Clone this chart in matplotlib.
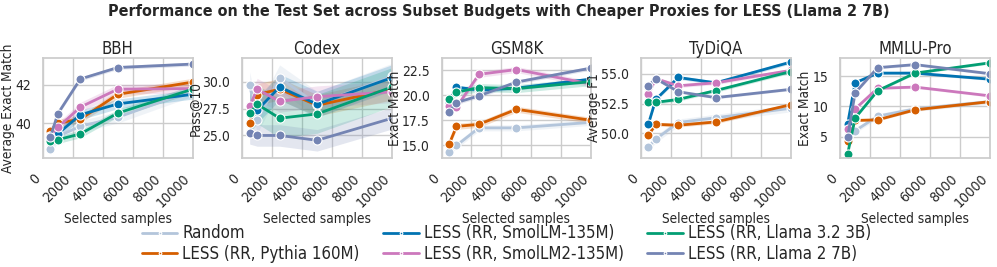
import matplotlib
matplotlib.use("Agg")
import matplotlib.pyplot as plt
import seaborn as sns
import numpy as np

sns.set_theme(style="whitegrid")
plt.rcParams['font.family'] = ['DejaVu Sans']
plt.rcParams['font.stretch'] = 'condensed'

budgets = [500, 1000, 2500, 5000, 10000]

methods = ["Random", "LESS (RR, Pythia 160M)", "LESS (RR, SmolLM-135M)",
           "LESS (RR, SmolLM2-135M)", "LESS (RR, Llama 3.2 3B)", "LESS (RR, Llama 2 7B)"]
colors = ["#b3c5db", "#d55e00", "#0173b2", "#cc78bc", "#029e73", "#7484b3"]

benchmarks = ["BBH", "Codex", "GSM8K", "TyDiQA", "MMLU-Pro"]
ylabels = ["Average Exact Match", "Pass@10", "Exact Match", "Average F1", "Exact Match"]

bbh = {
    "Random": [38.66, 39.3, 39.83, 40.3, 41.7],
    "LESS (RR, Pythia 160M)": [39.6, 40.0, 40.2, 41.5, 42.14],
    "LESS (RR, SmolLM-135M)": [39.3, 39.44, 40.43, 41.0, 41.5],
    "LESS (RR, SmolLM2-135M)": [39.34, 39.77, 40.83, 41.77, 41.8],
    "LESS (RR, Llama 3.2 3B)": [39.04, 39.13, 39.43, 40.52, 41.77],
    "LESS (RR, Llama 2 7B)": [39.27, 40.49, 42.3, 42.9, 43.08],
}
codex = {
    "Random": [29.7, 26.4, 30.35, 27.9, 30.5],
    "LESS (RR, Pythia 160M)": [26.2, 28.8, 29.3, 27.8, 29.3],
    "LESS (RR, SmolLM-135M)": [27.75, 27.35, 29.5, 27.9, 30.37],
    "LESS (RR, SmolLM2-135M)": [27.7, 29.3, 28.16, 28.6, 29.05],
    "LESS (RR, Llama 3.2 3B)": [27.05, 27.9, 26.6, 27.0, 29.5],
    "LESS (RR, Llama 2 7B)": [25.2, 25.0, 25.0, 24.55, 26.6],
}
gsm8k = {
    "Random": [14.4, 15.0, 16.75, 16.75, 17.3],
    "LESS (RR, Pythia 160M)": [15.1, 16.9, 17.1, 18.6, 17.5],
    "LESS (RR, SmolLM-135M)": [19.2, 20.8, 20.5, 20.7, 21.6],
    "LESS (RR, SmolLM2-135M)": [18.9, 18.8, 22.07, 22.55, 21.1],
    "LESS (RR, Llama 3.2 3B)": [19.6, 20.3, 20.75, 20.65, 21.35],
    "LESS (RR, Llama 2 7B)": [18.35, 19.27, 19.93, 21.3, 22.7],
}
tydiqa = {
    "Random": [48.8, 49.5, 50.9, 51.3, 52.1],
    "LESS (RR, Pythia 160M)": [49.83, 50.75, 50.67, 50.95, 52.4],
    "LESS (RR, SmolLM-135M)": [50.75, 52.85, 54.7, 54.25, 56.0],
    "LESS (RR, SmolLM2-135M)": [53.27, 54.6, 54.0, 54.25, 55.3],
    "LESS (RR, Llama 3.2 3B)": [52.6, 52.6, 52.85, 53.6, 55.2],
    "LESS (RR, Llama 2 7B)": [54.0, 54.6, 53.5, 53.0, 53.7],
}
mmlu_pro = {
    "Random": [5.2, 6.0, 8.4, 9.6, 10.8],
    "LESS (RR, Pythia 160M)": [4.3, 7.7, 7.8, 9.45, 10.8],
    "LESS (RR, SmolLM-135M)": [7.15, 13.9, 15.5, 15.5, 14.5],
    "LESS (RR, SmolLM2-135M)": [6.3, 9.6, 13.0, 13.2, 11.75],
    "LESS (RR, Llama 3.2 3B)": [2.2, 8.1, 12.6, 15.5, 17.2],
    "LESS (RR, Llama 2 7B)": [5.0, 12.25, 16.4, 16.9, 15.4],
}
# half width of the shaded band, per method
bands = {
    "BBH": [0.3, 0.2, 0.25, 0.25, 0.2, 0.1],
    "Codex": [1.2, 1.0, 1.2, 1.0, 1.8, 1.0],
    "GSM8K": [0.3, 0.3, 0.2, 0.3, 0.4, 0.2],
    "TyDiQA": [0.3, 0.15, 0.15, 0.15, 0.15, 0.1],
    "MMLU-Pro": [0.4, 0.2, 0.2, 0.2, 0.2, 0.2],
}
data = [bbh, codex, gsm8k, tydiqa, mmlu_pro]
ylims = [(38.17, 43.4), (22.9, 32.2), (13.75, 23.7), (47.9, 56.35), (1.5, 18.0)]
yticks = [[40, 42], [25.0, 27.5, 30.0], [15.0, 17.5, 20.0, 22.5],
          [50.0, 52.5, 55.0], [5, 10, 15]]

fig, axes = plt.subplots(1, 5, figsize=(9.97, 2.67), dpi=100)
fig.subplots_adjust(left=0.043, right=0.993, top=0.783, bottom=0.408, wspace=0.33)

for i, ax in enumerate(axes):
    d = data[i]
    for j, m in enumerate(methods):
        y = np.array(d[m])
        hw = bands[benchmarks[i]][j]
        ax.fill_between(budgets, y - hw, y + hw, color=colors[j], alpha=0.2, lw=0)
        ax.plot(budgets, y, color=colors[j], lw=2, marker='o', markersize=6.5,
                markeredgecolor='white', markeredgewidth=0.8, label=m)
    ax.set_xlim(0, 10000)
    ax.set_ylim(*ylims[i])
    ax.set_yticks(yticks[i])
    if i in (1, 2, 3):
        ax.set_yticklabels(["%.1f" % t for t in yticks[i]])
    ax.set_xticks([0, 2000, 4000, 6000, 8000, 10000])
    ax.tick_params(axis='x', labelsize=10.2, pad=4)
    ax.tick_params(axis='y', labelsize=10, pad=2.5)
    plt.setp(ax.get_xticklabels(), rotation=45, ha='right')
    ax.set_title(benchmarks[i], fontsize=12, pad=3)
    ax.set_ylabel(ylabels[i], fontsize=9.8, labelpad=0)
    ax.set_xlabel("Selected samples", fontsize=9.8, labelpad=1)

handles, labels = axes[0].get_legend_handles_labels()
fig.legend(handles, labels, loc='lower center', ncol=3, frameon=False, fontsize=12.1,
           bbox_to_anchor=(0.508, -0.043), columnspacing=1.4, handlelength=2.1,
           handletextpad=0.3, labelspacing=0.17, markerscale=0.3)
fig.suptitle("Performance on the Test Set across Subset Budgets with Cheaper Proxies for LESS (Llama 2 7B)",
             fontsize=11.5, fontweight='bold', y=0.985)

fig.savefig("out.png", dpi=100)
